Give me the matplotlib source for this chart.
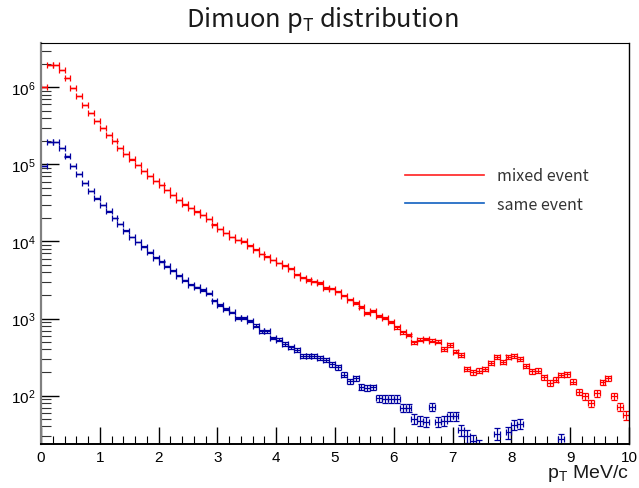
import numpy as np
import matplotlib
matplotlib.use("Agg")
import matplotlib.pyplot as plt
from matplotlib.lines import Line2D
from matplotlib.ticker import LogLocator, MultipleLocator

plt.rcParams['font.family'] = ['Liberation Sans', 'DejaVu Sans']

# pT bins: 100 bins of 0.1 from 0 to 10
bin_edges = np.linspace(0, 10, 101)

mixed_event = [
    1.0e6, 1.95e6, 1.96e6, 1.68e6, 1.31e6, 9.8e5, 7.64e5, 5.89e5, 4.64e5, 3.69e5,
    2.99e5, 2.40e5, 1.99e5, 1.63e5, 1.36e5, 1.16e5, 9.9e4, 8.3e4, 7.1e4, 6.15e4,
    5.46e4, 4.70e4, 4.05e4, 3.48e4, 3.03e4, 2.72e4, 2.44e4, 2.21e4, 1.96e4, 1.65e4,
    1.45e4, 1.29e4, 1.15e4, 1.05e4, 1.0e4, 8.8e3, 7.8e3, 6.9e3, 6.35e3, 5.75e3,
    5.26e3, 4.85e3, 4.4e3, 3.71e3, 3.39e3, 3.17e3, 3.01e3, 2.9e3, 2.5e3, 2.45e3,
    2.23e3, 1.98e3, 1.76e3, 1.59e3, 1.40e3, 1.18e3, 1.24e3, 1.09e3, 1.01e3, 895,
    771, 664, 612, 493, 532, 543, 517, 502, 403, 455,
    372, 337, 222, 201, 211, 222, 265, 315, 276, 315,
    324, 299, 241, 207, 211, 173, 146, 161, 186, 191,
    152, 113, 98, 80, 107, 149, 168, 98, 71, 56,
]

same_event = [
    9.6e4, 1.94e5, 1.94e5, 1.62e5, 1.27e5, 9.6e4, 7.5e4, 5.8e4, 4.56e4, 3.63e4,
    3.0e4, 2.46e4, 2.02e4, 1.69e4, 1.38e4, 1.15e4, 9.9e3, 8.6e3, 7.2e3, 6.2e3,
    5.5e3, 4.8e3, 4.2e3, 3.6e3, 3.15e3, 2.75e3, 2.55e3, 2.35e3, 2.13e3, 1.71e3,
    1.5e3, 1.33e3, 1.2e3, 1.02e3, 1.02e3, 940, 810, 684, 684, 560,
    532, 468, 424, 392, 330, 324, 324, 308, 290, 254,
    233, 187, 154, 168, 131, 127, 128, 93, 91, 91,
    91, 69, 69, 50, 47, 46, 71, 46, 47, 54,
    54, 36, 30, 26, 22, 0, 0, 32, 0, 33.5,
    42, 43, 0, 0, 0, 0, 0, 0, 27, 0,
    0, 0, 0, 0, 0, 0, 0, 0, 0, 0,
]

series_labels = ['mixed event', 'same event']

fig = plt.figure(figsize=(6.39, 4.89), dpi=100)
ax = fig.add_axes([41 / 639, 1 - 445 / 489, 588 / 639, 401 / 489])

centers = 0.5 * (bin_edges[:-1] + bin_edges[1:])
half_width = 0.5 * np.diff(bin_edges)


def draw_hist(counts, color):
    counts = np.asarray(counts, dtype=float)
    keep = counts > 0
    ax.errorbar(centers[keep], counts[keep], xerr=half_width[keep],
                yerr=np.sqrt(counts[keep]), fmt='none', ecolor=color,
                elinewidth=0.9, capsize=2, capthick=0.9)


draw_hist(mixed_event, '#ff0000')
draw_hist(same_event, '#0000a0')

ax.set_yscale('log')
ax.set_xlim(0, 10)
ax.set_ylim(23.6, 3.76e6)

ax.xaxis.set_major_locator(MultipleLocator(1))
ax.xaxis.set_minor_locator(MultipleLocator(0.2))
ax.yaxis.set_major_locator(LogLocator(base=10, numticks=10))
ax.yaxis.set_minor_locator(LogLocator(base=10, subs=np.arange(2, 10), numticks=20))

ax.tick_params(axis='x', which='major', direction='in', length=12, width=1,
               labelsize=11, pad=4, top=False)
ax.tick_params(axis='x', which='minor', direction='in', length=6, width=0.8, top=False)
ax.tick_params(axis='y', which='major', direction='in', length=13, width=1,
               labelsize=11, pad=4, right=False)
ax.tick_params(axis='y', which='minor', direction='in', length=7, width=0.8,
               color='#333333', right=False)

ax.spines['left'].set_color('#808080')
ax.spines['left'].set_linewidth(1.6)
ax.spines['bottom'].set_linewidth(1.4)
ax.spines['top'].set_linewidth(0.8)
ax.spines['right'].set_linewidth(1.0)

fig.text(0.505, 1 - 20 / 489, r'Dimuon p$_\mathregular{T}$ distribution',
         ha='center', va='center', fontsize=18.3, color='#1a1a1a',
         family=['Noto Sans CJK JP', 'DejaVu Sans'])

ax.set_xlabel(r'p$_\mathregular{T}$ MeV/c', fontsize=14, color='#1a1a1a')
ax.xaxis.set_label_coords(1.0, -0.046)
ax.xaxis.label.set_ha('right')

handles = [Line2D([], [], color='#ff2020', lw=1.2),
           Line2D([], [], color='#1060c0', lw=1.2)]
leg = ax.legend(handles, series_labels, loc='upper left',
                bbox_to_anchor=(350 / 588, 1 - 110 / 401), frameon=False,
                handlelength=4.9, handletextpad=0.85, labelspacing=0.7,
                prop={'family': ['Noto Sans CJK JP', 'DejaVu Sans'], 'size': 11.5})
for t in leg.get_texts():
    t.set_color('#333333')

fig.savefig('out.png', dpi=100)
